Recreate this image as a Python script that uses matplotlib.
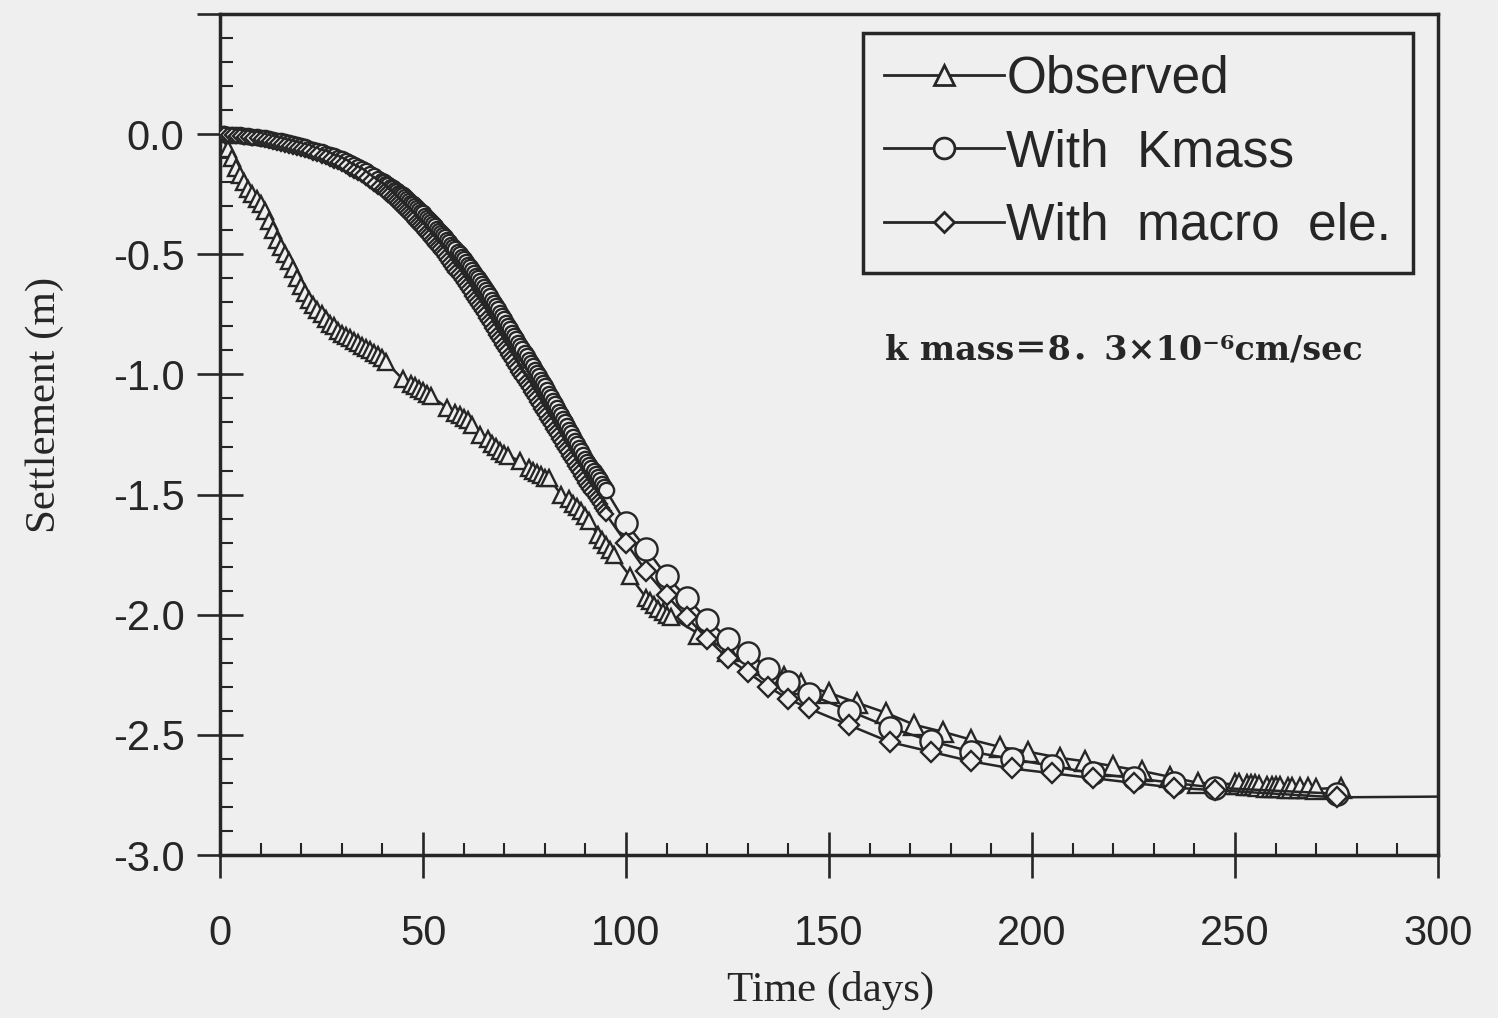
import matplotlib
matplotlib.use("Agg")
import matplotlib.pyplot as plt
from matplotlib.lines import Line2D
from matplotlib.ticker import MultipleLocator, FixedLocator, FixedFormatter

# ---------------- data ----------------
# Observed settlement (m) vs time (days)
obs_dense_t = [0, 2, 3, 4, 5, 6, 7, 8, 9, 10, 11, 12, 13, 14, 15, 16, 17, 18, 19, 20,
               21, 22, 23, 24, 25, 26, 27, 28, 29, 30, 31, 32, 33, 34, 35, 36, 37, 38, 39, 40,
               41, 45, 47, 48, 49, 50, 51, 52, 56, 58, 59, 60, 61, 62, 64, 66, 67, 68, 69, 70,
               71, 74, 76, 77, 78, 79, 80, 81, 84, 86, 87, 88, 89, 90, 91, 93, 94, 95, 96, 97,
               101, 105, 106, 107, 108, 109, 110, 111]
obs_dense_y = [0.00, -0.06, -0.10, -0.14, -0.17, -0.20, -0.23, -0.25, -0.27, -0.29, -0.32, -0.36,
               -0.40, -0.44, -0.47, -0.50, -0.53, -0.56, -0.60, -0.63, -0.66, -0.69, -0.71, -0.73,
               -0.75, -0.77, -0.79, -0.80, -0.82, -0.83, -0.84, -0.85, -0.86, -0.87, -0.88, -0.89,
               -0.90, -0.91, -0.92, -0.93, -0.95, -1.02, -1.04, -1.05, -1.06, -1.07, -1.08, -1.09,
               -1.14, -1.16, -1.17, -1.18, -1.19, -1.21, -1.25, -1.27, -1.29, -1.30, -1.32, -1.33,
               -1.34, -1.36, -1.39, -1.40, -1.41, -1.42, -1.43, -1.43, -1.50, -1.52, -1.54, -1.55,
               -1.57, -1.59, -1.61, -1.67, -1.69, -1.71, -1.73, -1.75, -1.84, -1.93, -1.945, -1.96,
               -1.975, -1.99, -2.00, -2.01]
obs_sparse_t = [118, 125, 132, 139, 143, 150, 157, 164, 171, 178, 185, 192, 199, 207, 213, 220,
                227, 234, 241, 250, 251, 253, 254, 255, 256, 258, 259, 260, 261, 263, 264, 266,
                268, 270, 276]
obs_sparse_y = [-2.08, -2.15, -2.21, -2.26, -2.29, -2.325, -2.367, -2.408, -2.458, -2.487, -2.52,
                -2.55, -2.57, -2.596, -2.61, -2.63, -2.65, -2.675, -2.70, -2.705, -2.705, -2.71,
                -2.71, -2.71, -2.712, -2.715, -2.715, -2.715, -2.717, -2.72, -2.72, -2.72, -2.722,
                -2.725, -2.72]

# output times of the two analyses: daily to day 39, then every half day to day 95
sim_dense_t = list(range(0, 40)) + [40 + 0.5 * i for i in range(111)]

# With Kmass (circles)
kmass_dense_y = [
    0.000, -0.001, -0.002, -0.003, -0.004, -0.005, -0.007, -0.009, -0.011, -0.013,
    -0.015, -0.018, -0.021, -0.024, -0.027, -0.030, -0.034, -0.038, -0.042, -0.046,
    -0.050, -0.055, -0.060, -0.065, -0.070, -0.075, -0.081, -0.087, -0.093, -0.099,
    -0.105, -0.113, -0.121, -0.129, -0.137, -0.145, -0.155, -0.165, -0.175, -0.185,
    -0.195, -0.201, -0.207, -0.213, -0.219, -0.225, -0.231, -0.237, -0.243, -0.249,
    -0.255, -0.262, -0.270, -0.277, -0.285, -0.292, -0.300, -0.307, -0.315, -0.322,
    -0.330, -0.339, -0.348, -0.357, -0.366, -0.375, -0.384, -0.393, -0.402, -0.411,
    -0.420, -0.430, -0.440, -0.450, -0.460, -0.470, -0.480, -0.490, -0.500, -0.510,
    -0.520, -0.531, -0.543, -0.554, -0.566, -0.577, -0.589, -0.600, -0.612, -0.623,
    -0.635, -0.648, -0.662, -0.675, -0.689, -0.702, -0.716, -0.729, -0.743, -0.756,
    -0.770, -0.784, -0.798, -0.812, -0.826, -0.840, -0.854, -0.868, -0.882, -0.896,
    -0.910, -0.924, -0.938, -0.952, -0.966, -0.980, -0.994, -1.008, -1.022, -1.036,
    -1.050, -1.065, -1.080, -1.095, -1.110, -1.125, -1.140, -1.155, -1.170, -1.185,
    -1.200, -1.215, -1.230, -1.245, -1.260, -1.275, -1.290, -1.305, -1.320, -1.335,
    -1.350, -1.363, -1.376, -1.389, -1.402, -1.415, -1.428, -1.441, -1.454, -1.467,
    -1.480]
kmass_sparse_t = [100, 105, 110, 115, 120, 125, 130, 135, 140, 145, 155, 165, 175, 185, 195, 205,
                  215, 225, 235, 245, 275]
kmass_sparse_y = [-1.62, -1.725, -1.84, -1.93, -2.02, -2.10, -2.16, -2.225, -2.28, -2.33, -2.40,
                  -2.47, -2.525, -2.57, -2.60, -2.63, -2.66, -2.68, -2.70, -2.72, -2.745]

# With macro element (diamonds)
macro_dense_y = [
    0.000, -0.001, -0.002, -0.004, -0.006, -0.008, -0.010, -0.012, -0.015, -0.017,
    -0.020, -0.024, -0.028, -0.032, -0.036, -0.040, -0.044, -0.048, -0.052, -0.056,
    -0.060, -0.066, -0.072, -0.078, -0.084, -0.090, -0.097, -0.104, -0.111, -0.118,
    -0.125, -0.134, -0.143, -0.152, -0.161, -0.170, -0.182, -0.194, -0.206, -0.218,
    -0.230, -0.238, -0.246, -0.254, -0.262, -0.270, -0.278, -0.286, -0.294, -0.302,
    -0.310, -0.319, -0.328, -0.337, -0.346, -0.355, -0.364, -0.373, -0.382, -0.391,
    -0.400, -0.410, -0.420, -0.430, -0.440, -0.450, -0.460, -0.470, -0.480, -0.490,
    -0.500, -0.512, -0.524, -0.536, -0.548, -0.560, -0.572, -0.584, -0.596, -0.608,
    -0.620, -0.633, -0.646, -0.659, -0.672, -0.685, -0.698, -0.711, -0.724, -0.737,
    -0.750, -0.764, -0.778, -0.792, -0.806, -0.820, -0.834, -0.848, -0.862, -0.876,
    -0.890, -0.904, -0.918, -0.932, -0.946, -0.960, -0.974, -0.988, -1.002, -1.016,
    -1.030, -1.044, -1.058, -1.072, -1.086, -1.100, -1.114, -1.128, -1.142, -1.156,
    -1.170, -1.184, -1.198, -1.212, -1.226, -1.240, -1.254, -1.268, -1.282, -1.296,
    -1.310, -1.324, -1.338, -1.352, -1.366, -1.380, -1.394, -1.408, -1.422, -1.436,
    -1.450, -1.463, -1.476, -1.489, -1.502, -1.515, -1.528, -1.541, -1.554, -1.567,
    -1.580]
macro_sparse_t = [100, 105, 110, 115, 120, 125, 130, 135, 140, 145, 155, 165, 175, 185, 195, 205,
                  215, 225, 235, 245, 275]
macro_sparse_y = [-1.70, -1.82, -1.92, -2.01, -2.10, -2.18, -2.24, -2.30, -2.35, -2.39, -2.46,
                  -2.53, -2.57, -2.61, -2.64, -2.66, -2.68, -2.70, -2.72, -2.73, -2.76]

# line continuing to the right edge after the last computed point
tail_t = [275, 300]
tail_y = [-2.76, -2.757]

x_ticks = [0, 50, 100, 150, 200, 250, 300]
x_ticklabels = ["0", "50", "100", "150", "200", "250", "300"]
y_ticks = [-3.0, -2.5, -2.0, -1.5, -1.0, -0.5, 0.0, 0.5]
y_ticklabels = ["-3.0", "-2.5", "-2.0", "-1.5", "-1.0", "-0.5", "0.0", ""]
legend_labels = ["Observed", "With  Kmass", "With  macro  ele."]

# ---------------- style ----------------
BG = "#efefef"
INK = "#262626"
plt.rcParams["font.family"] = ["Liberation Sans", "DejaVu Sans"]
plt.rcParams["axes.unicode_minus"] = False

fig = plt.figure(figsize=(14.98, 10.18), dpi=100, facecolor=BG)
ax = fig.add_axes([220 / 1498, 163 / 1018, 1218 / 1498, 841 / 1018], facecolor=BG)

lw = 1.8
mew = 1.7

# observed
ax.plot(obs_dense_t + obs_sparse_t, obs_dense_y + obs_sparse_y, color=INK, lw=lw, zorder=2)
ax.plot(obs_dense_t, obs_dense_y, ls="none", marker="^", ms=12, mfc=BG, mec=INK, mew=mew, zorder=3)
ax.plot(obs_sparse_t, obs_sparse_y, ls="none", marker="^", ms=14, mfc=BG, mec=INK, mew=mew, zorder=3)

# kmass
ax.plot(sim_dense_t + kmass_sparse_t, kmass_dense_y + kmass_sparse_y, color=INK, lw=lw, zorder=4)
ax.plot(sim_dense_t, kmass_dense_y, ls="none", marker="o", ms=11, mfc=BG, mec=INK, mew=mew, zorder=5)
ax.plot(kmass_sparse_t, kmass_sparse_y, ls="none", marker="o", ms=16, mfc=BG, mec=INK, mew=mew, zorder=5)

# macro
ax.plot(sim_dense_t + macro_sparse_t, macro_dense_y + macro_sparse_y, color=INK, lw=lw, zorder=6)
ax.plot(sim_dense_t, macro_dense_y, ls="none", marker="D", ms=7.5, mfc=BG, mec=INK, mew=mew, zorder=7)
ax.plot(macro_sparse_t, macro_sparse_y, ls="none", marker="D", ms=10.5, mfc=BG, mec=INK, mew=mew, zorder=7)
ax.plot(tail_t, tail_y, color=INK, lw=lw, zorder=6)

ax.set_xlim(0, 300)
ax.set_ylim(-3.0, 0.5)
ax.xaxis.set_major_locator(FixedLocator(x_ticks))
ax.xaxis.set_major_formatter(FixedFormatter(x_ticklabels))
ax.yaxis.set_major_locator(FixedLocator(y_ticks))
ax.yaxis.set_major_formatter(FixedFormatter(y_ticklabels))
ax.xaxis.set_minor_locator(MultipleLocator(10))
ax.yaxis.set_minor_locator(MultipleLocator(0.1))
ax.tick_params(which="major", direction="inout", length=33, width=1.9, color=INK,
               labelsize=30, labelcolor=INK)
ax.tick_params(axis="x", which="major", pad=26)
ax.tick_params(axis="y", which="major", pad=9)
ax.tick_params(which="minor", direction="in", length=9, width=1.5, color=INK)
for s in ax.spines.values():
    s.set_linewidth(2.5)
    s.set_color(INK)

fig.text(45 / 1498, 1 - 405 / 1018, "Settlement (m)", rotation=90, ha="center", va="center",
         fontsize=31, family=["Liberation Serif"], color=INK)
fig.text(831 / 1498, 1 - 990 / 1018, "Time (days)", ha="center", va="center",
         fontsize=31, family=["Liberation Serif"], color=INK)

handles = [
    Line2D([], [], color=INK, lw=2.0, marker="^", ms=14, mfc=BG, mec=INK, mew=2.0),
    Line2D([], [], color=INK, lw=2.0, marker="o", ms=15, mfc=BG, mec=INK, mew=2.0),
    Line2D([], [], color=INK, lw=2.0, marker="D", ms=10, mfc=BG, mec=INK, mew=2.0),
]
leg = ax.legend(handles, legend_labels, loc="upper right",
                bbox_to_anchor=((1413 - 220) / 1218, (855 - 33) / 841),
                bbox_transform=ax.transAxes, borderaxespad=0, fontsize=37,
                handlelength=2.33, handletextpad=0.05, borderpad=0.42, labelspacing=0.48,
                frameon=True, fancybox=False, facecolor=BG, framealpha=1, edgecolor=INK)
leg.get_frame().set_linewidth(2.5)
for t in leg.get_texts():
    t.set_color(INK)

fig.text(885 / 1498, 1 - 350 / 1018, "k mass＝8．3×10⁻⁶cm/sec", ha="left", va="center",
         fontsize=24, fontweight="bold", family=["DejaVu Serif", "Noto Sans CJK JP"], color=INK)

fig.savefig("out.png", dpi=100, facecolor=BG)
